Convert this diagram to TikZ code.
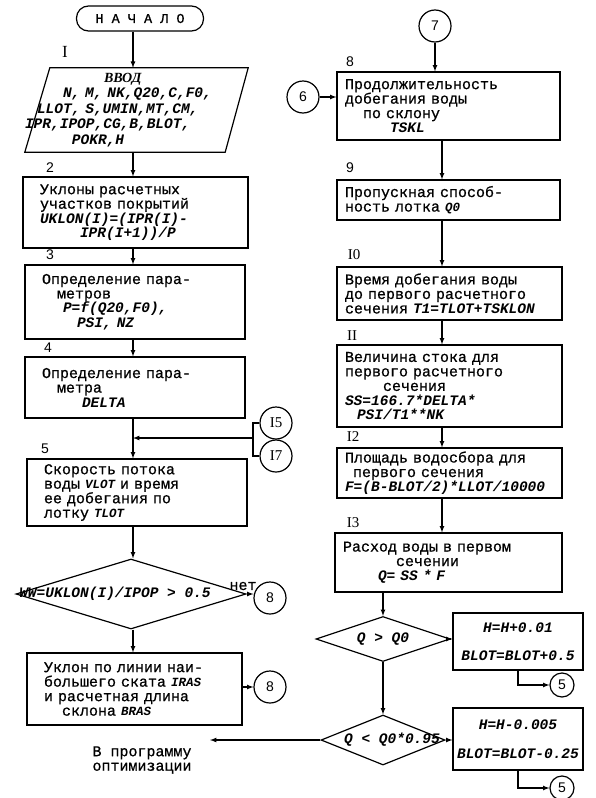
\documentclass[tikz,border=0pt]{standalone}
\usepackage{fontspec}
\usepackage{tikz}
\usetikzlibrary{shapes.geometric}
\usetikzlibrary{arrows}
\usetikzlibrary{calc}

\newfontfamily\twfont[FakeBold=0.8]{Liberation Mono}
\newfontfamily\fmlfont{Liberation Mono}
\newfontfamily\numfont{Liberation Sans}
\newfontfamily\romfont{Liberation Serif}
\newcommand\twf{\twfont\fontsize{15}{14.5}\selectfont}
\newcommand\fml{\fmlfont\bfseries\itshape\fontsize{14.5}{14.5}\selectfont}
\newcommand\fmls{\fmlfont\bfseries\itshape\fontsize{12.5}{14.5}\selectfont}
\newcommand\numf{\numfont\fontsize{14}{16}\selectfont}
\newcommand\romf{\romfont\fontsize{15}{17}\selectfont}

\begin{document}
\begin{tikzpicture}[x=1pt,y=-1pt]

\tikzset{blk/.style={draw, rectangle, line width=1.2pt, align=left, font=\twf,
    inner xsep=#1, inner ysep=2pt
  }, blk/.default=17pt,
  dia/.style={draw, diamond, line width=1.2pt, inner sep=0pt},
  con/.style={draw, circle, line width=1.2pt, inner sep=0pt, minimum size=#1,
    font=\numf
  }, con/.default=32pt,
  arr/.style={-latex, line width=1.2pt},
  num/.style={font=\numf, inner sep=0pt},
  rom/.style={font=\romf, inner sep=0pt}
}
\useasboundingbox (0,0) rectangle (596,798);

% left column
\node[draw, rectangle, rounded corners=12pt, line width=1.2pt, minimum width=127pt,
  minimum height=25pt, font=\twfont\fontsize{13.5}{14}\selectfont] (start)
  at (140,18.5) {Н А Ч А Л О};
\node[rom, font=\romfont\fontsize{17}{17}\selectfont] (lI) at (65,52) {I};
\node[align=left, font={\fml\fontsize{14.5}{15.5}\selectfont}, text width=223pt,
  inner xsep=0pt, minimum height=84pt] (in) at (136.5,110)
  {\hspace*{79pt}{\romfont\fontsize{14}{15.5}\selectfont ВВОД}\\
   \hspace*{38pt}N, M, NK,Q20,C,F0,\\
   \hspace*{12pt}LLOT, S,UMIN,MT,CM,\\
   IPR,IPOP,CG,B,BLOT,\\
   \hspace*{47pt}POKR,H};
\draw[line width=1.2pt] ($(in.north west)+(25,0)$) -- (in.north east)
  -- ($(in.south east)+(-23,0)$) -- (in.south west) -- cycle;

\node[num] (l2) at (50,168) {2};
\node[blk, text width=191pt, minimum height=71pt] (b2) at (135.5,212.5)
  {Уклоны расчетных\\участков покрытий\\{\fml UKLON(I)=(IPR(I)-}\\
   \hspace*{40pt}{\fml IPR(I+1))/P}};
\node[num] (l3) at (50,255) {3};
\node[blk, text width=186pt, minimum height=74pt] (b3) at (135,302)
  {Определение пара-\\\hspace*{15pt}метров\\\hspace*{21pt}{\fml P=f(Q20,F0),}\\
   \hspace*{35pt}{\fml PSI, NZ}};
\node[num] (l4) at (48,348) {4};
\node[blk, text width=186pt, minimum height=61pt] (b4) at (135,387.5)
  {Определение пара-\\\hspace*{15pt}метра\\\hspace*{40pt}{\fml DELTA}};
\node[con, font=\romf] (c15) at (276,423) {I5};
\node[con, font=\romf] (c17) at (276,456) {I7};
\node[num] (l5) at (45,449) {5};
\node[blk, text width=186pt, minimum height=67pt] (b5) at (137,492.5)
  {Скорость потока\\воды {\fmls VLOT} и время\\ее добегания по\\лотку {\fmls TLOT}};
\node[dia, minimum width=230pt, minimum height=70pt] (d1) at (131,594)
  {\makebox[0pt]{\hspace{-32pt}\fml WW=UKLON(I)/IPOP > 0.5}};
\node[font=\twf, inner sep=0pt] (no) at (243,586) {нет};
\node[con] (c8a) at (270,598) {8};
\node[blk, text width=181pt, minimum height=72pt] (b6) at (134.5,689)
  {Уклон по линии наи-\\большего ската {\fmls IRAS}\\и расчетная длина\\
   \hspace*{18pt}склона {\fmls BRAS}};
\node[con] (c8b) at (270,687) {8};
\node[font=\twf, align=center] (out) at (142,760) {В программу\\оптимизации};
\coordinate (ex) at (210,740);

% right column
\node[con] (c7) at (435,26) {7};
\node[con] (c6) at (303,97) {6};
\node[num] (l8) at (350,62) {8};
\node[blk=8pt, text width=207pt, minimum height=68pt] (b8) at (448.5,106)
  {Продолжительность\\добегания воды\\\hspace*{18pt}по склону\\
   \hspace*{45pt}{\fml TSKL}};
\node[num] (l9) at (350,168) {9};
\node[blk=8pt, text width=207pt, minimum height=40pt] (b9) at (448.5,200)
  {Пропускная способ-\\ность лотка {\fmls Q0}};
\node[rom] (l10) at (354,255) {I0};
\node[blk=8pt, text width=209pt, minimum height=53pt] (b10) at (449.5,293.5)
  {Время добегания воды\\до первого расчетного\\сечения {\fml T1=TLOT+TSKLON}};
\node[rom] (l11) at (352,336) {II};
\node[blk=8pt, text width=209pt, minimum height=82pt] (b11) at (449.5,386)
  {Величина стока для\\первого расчетного\\\hspace*{38pt}сечения\\
   {\fml SS=166.7*DELTA*}\\\hspace*{12pt}{\fml PSI/T1**NK}};
\node[rom] (l12) at (353,437) {I2};
\node[blk=8pt, text width=209pt, minimum height=50pt] (b12) at (449.5,473)
  {Площадь водосбора для\\\hspace*{8pt}первого сечения\\
   {\fml F=(B-BLOT/2)*LLOT/10000}};
\node[rom] (l13) at (353,523) {I3};
\node[blk=8pt, text width=211pt, minimum height=59pt] (b13) at (448.5,562.5)
  {Расход воды в первом\\\hspace*{53pt}сечении\\\hspace*{35pt}{\fml Q= SS * F}};
\node[dia, minimum width=134pt, minimum height=45pt] (d2) at (383,639)
  {\makebox[0pt]{\fml Q > Q0}};
\node[dia, minimum width=124pt, minimum height=50pt] (d3) at (383,740)
  {\makebox[0pt]{\hspace{18pt}\fml Q < Q0*0.95}};
\node[blk=0pt, align=center, font=\fml, text width=130pt, minimum height=57pt]
  (hp) at (518,641.5) {H=H+0.01\\[13.5pt]BLOT=BLOT+0.5};
\node[blk=0pt, align=center, font=\fml, text width=130pt, minimum height=62pt]
  (hm) at (518,739) {H=H-0.005\\[14pt]BLOT=BLOT-0.25};
\node[con=24pt] (c5a) at (562,685) {5};
\node[con=24pt] (c5b) at (562,788) {5};

% connectors
\coordinate (lc) at (133,0);
\coordinate (rc) at (442,0);
\coordinate (brk) at (253,438);
\draw[arr] (start.south -| lc) -- (in.north -| lc);
\foreach \a/\b in {in/b2,b2/b3,b3/b4,b4/b5,b5/d1,d1/b6}
  \draw[arr] (\a.south -| lc) -- (\b.north -| lc);
\draw[line width=1.2pt] (c15.west) -| (brk) |- (c17.west);
\draw[arr] (brk) -- (brk -| lc);
\draw[arr] (d1.east) -- (d1.east -| c8a.west);
\draw[arr] (b6.east |- c8b) -- (c8b.west);
\draw[arr] (c7) -- (c7 |- b8.north);
\draw[arr] (c6) -- (c6 -| b8.west);
\foreach \a/\b in {b8/b9,b9/b10,b10/b11,b11/b12,b12/b13}
  \draw[arr] (\a.south -| rc) -- (\b.north -| rc);
\draw[arr] (b13.south -| d2.north) -- (d2.north);
\draw[arr] (d2.south) -- (d3.north);
\draw[arr] (d2.east) -- (d2.east -| hp.west);
\draw[arr] (d3.east) -- (d3.east -| hm.west);
\draw[arr] (d3.west) -- (d3.west -| ex);
\draw[arr] (hp.south) |- (c5a);
\draw[arr] (hm.south) |- (c5b);
\end{tikzpicture}
\end{document}
